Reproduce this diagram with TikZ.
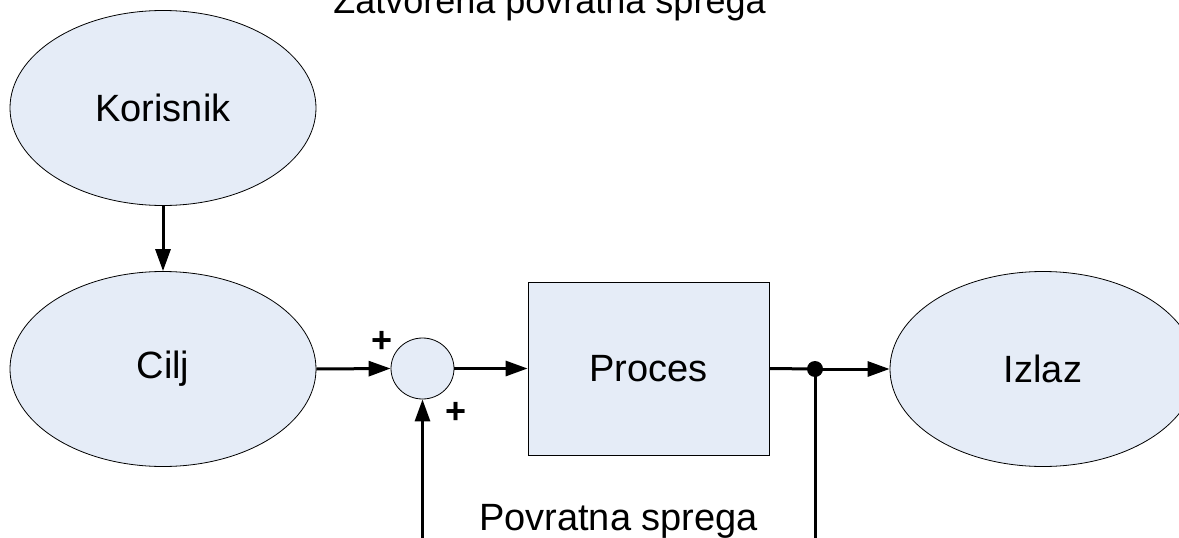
\documentclass[tikz,border=0pt]{standalone}
\usepackage{fontspec}
\setmainfont{Liberation Sans}
\usetikzlibrary{arrows.meta,calc,shapes.geometric}
\definecolor{nodefill}{RGB}{229,236,247}
\tikzset{
  blob/.style={ellipse,draw=black,line width=0.8pt,fill=nodefill,minimum width=306pt,minimum height=195pt,inner sep=0pt,font=\fontsize{38}{42}\selectfont},
  sumnode/.style={ellipse,draw=black,line width=0.8pt,fill=nodefill,minimum width=63pt,minimum height=61pt,inner sep=0pt},
  procbox/.style={rectangle,draw=black,line width=0.8pt,fill=nodefill,minimum width=241pt,minimum height=173pt,inner sep=0pt,font=\fontsize{38}{42}\selectfont},
  conn/.style={line width=3pt,-{Triangle[length=22pt,width=15pt]}},
  plainline/.style={line width=3pt},
  sign/.style={font=\fontsize{36}{38}\selectfont\bfseries,inner sep=0pt},
  lbl/.style={font=\fontsize{37}{40}\selectfont,inner sep=0pt,anchor=base}
}
\begin{document}
\begin{tikzpicture}[x=1pt,y=-1pt]
\useasboundingbox (0,0) rectangle (1179,538);
\clip (0,0) rectangle (1179,538);
\node[lbl,font=\fontsize{36}{40}\selectfont] (title) at (549.5,13) {Zatvorena povratna sprega};
\node[blob] (kor) at (163,108) {Korisnik};
\node[blob] (cilj) at (163,369) {Cilj};
\node[sumnode] (sum) at (422.5,368.5) {};
\node[procbox] (proc) at (648.5,368.5) {Proces};
\node[blob] (izlaz) at (1043,369) {Izlaz};
\node[circle,fill=black,minimum size=16pt,inner sep=0pt] (dot) at (815,369) {};
\node[sign] (p1) at (382,342) {+};
\node[sign] (p2) at (456,413) {+};
\node[lbl,font=\fontsize{38}{42}\selectfont] (fbl) at (618.5,530) {Povratna sprega};
\coordinate (fb1) at (815,620);
\coordinate (fb2) at (sum.south |- fb1);
\draw[conn] (kor.south) -- (cilj.north);
\draw[conn] (cilj.east) -- (sum.west);
\draw[conn] (sum.east) -- (proc.west);
\draw[plainline] (proc.east) -- (dot.center);
\draw[conn] (dot.center) -- (izlaz.west);
\draw[plainline] (dot.center) -- (fb1) -- (fb2);
\draw[conn] (fb2) -- (sum.south);
\end{tikzpicture}
\end{document}
